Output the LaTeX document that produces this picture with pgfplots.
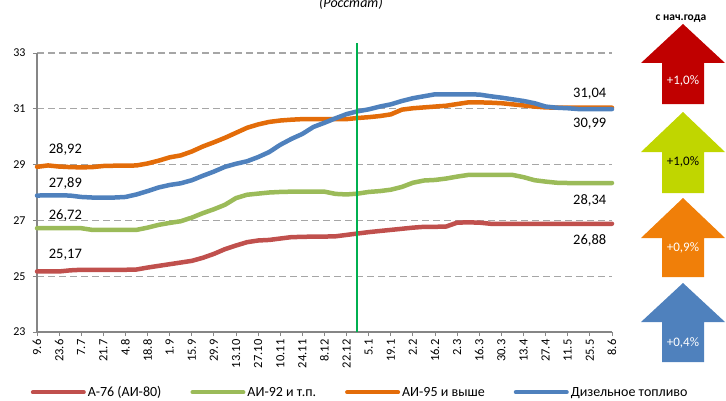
\documentclass[border=0pt]{standalone}
\usepackage{fontspec}
\setmainfont{Carlito}
\usepackage{pgfplots}
\pgfplotsset{compat=1.18}
\usepackage{pgfplotstable}

\definecolor{cRed}{HTML}{C0504D}
\definecolor{cGreen}{HTML}{9BBB59}
\definecolor{cOrange}{HTML}{E36C09}
\definecolor{cBlue}{HTML}{4F81BD}
\definecolor{aRed}{HTML}{C00000}
\definecolor{aGreen}{HTML}{C0D600}
\definecolor{aOrange}{HTML}{F07F09}
\definecolor{aBlue}{HTML}{4F81BD}
\definecolor{vGreen}{HTML}{00B050}
\definecolor{gridgray}{HTML}{A6A6A6}
\definecolor{axgray}{HTML}{868686}

\pgfplotstableread{
i red green orange blue
0 25.17 26.72 28.92 27.89
1 25.17 26.72 28.97 27.90
2 25.17 26.72 28.93 27.90
3 25.21 26.72 28.91 27.89
4 25.23 26.72 28.90 27.84
5 25.23 26.66 28.91 27.82
6 25.23 26.66 28.95 27.82
7 25.23 26.66 28.96 27.82
8 25.23 26.66 28.96 27.84
9 25.24 26.66 28.97 27.93
10 25.31 26.74 29.04 28.05
11 25.37 26.84 29.14 28.18
12 25.43 26.91 29.26 28.27
13 25.49 26.97 29.33 28.33
14 25.55 27.10 29.47 28.44
15 25.66 27.26 29.65 28.60
16 25.80 27.40 29.80 28.75
17 25.97 27.56 29.96 28.92
18 26.10 27.80 30.14 29.03
19 26.22 27.92 30.32 29.12
20 26.28 27.96 30.44 29.27
21 26.30 28.00 30.53 29.45
22 26.35 28.02 30.58 29.71
23 26.40 28.03 30.61 29.92
24 26.41 28.03 30.63 30.10
25 26.42 28.03 30.63 30.35
26 26.42 28.03 30.63 30.50
27 26.43 27.95 30.63 30.66
28 26.48 27.93 30.63 30.81
29 26.53 27.96 30.67 30.91
30 26.58 28.02 30.70 30.98
31 26.62 28.05 30.74 31.08
32 26.66 28.10 30.80 31.16
33 26.70 28.20 30.97 31.28
34 26.74 28.35 31.02 31.38
35 26.77 28.43 31.05 31.45
36 26.77 28.45 31.08 31.52
37 26.78 28.50 31.11 31.52
38 26.92 28.57 31.17 31.52
39 26.93 28.63 31.23 31.52
40 26.92 28.63 31.23 31.51
41 26.88 28.63 31.22 31.45
42 26.88 28.63 31.20 31.40
43 26.88 28.63 31.16 31.34
44 26.88 28.55 31.12 31.28
45 26.88 28.44 31.08 31.20
46 26.88 28.39 31.05 31.08
47 26.88 28.35 31.04 31.04
48 26.88 28.34 31.04 31.02
49 26.88 28.34 31.04 30.99
50 26.88 28.34 31.04 30.99
51 26.88 28.34 31.04 30.99
52 26.88 28.34 31.04 30.99
}\prices

\begin{document}
\begin{tikzpicture}[x=1pt,y=1pt]
\useasboundingbox (0,0) rectangle (726,400);
\begin{axis}[
  at={(37pt,68pt)}, anchor=south west,
  scale only axis, width=575pt, height=279pt,
  xmin=0, xmax=52, ymin=23, ymax=33,
  axis x line*=bottom, axis y line*=left,
  axis line style={axgray, line width=1.3pt, -},
  xtick={0,2,...,52},
  xticklabels={9.6,23.6,7.7,21.7,4.8,18.8,1.9,15.9,29.9,13.10,27.10,10.11,24.11,8.12,22.12,5.1,19.1,2.2,16.2,2.3,16.3,30.3,13.4,27.4,11.5,25.5,8.6},
  ytick={23,25,...,33},
  tick align=outside, major tick length=4pt,
  tick style={axgray, line width=1pt},
  ymajorgrids,
  grid style={gridgray, dash pattern=on 7pt off 4pt, line width=1.3pt},
  xticklabel style={rotate=90, anchor=east, font=\fontsize{12.5}{14}\selectfont},
  yticklabel style={font=\fontsize{12}{14}\selectfont, xshift=-4pt},
  /pgf/number format/assume math mode=true,
  clip=false,
  legend style={at={(0.562,-0.216)}, anchor=center, draw=none, fill=none,
    legend columns=4, font=\fontsize{14}{16}\selectfont,
    /tikz/every even column/.append style={column sep=27pt}},
  legend image code/.code={\draw[#1, line width=4pt, line cap=round] (0pt,0pt) -- (51pt,0pt);},
  every axis plot/.append style={line width=4.5pt, line join=round, line cap=round},
]
\addplot[cRed] table[x=i, y=red] {\prices};
\addlegendentry{А-76 (АИ-80)}
\addplot[cGreen] table[x=i, y=green] {\prices};
\addlegendentry{АИ-92 и т.п.}
\addplot[cOrange] table[x=i, y=orange] {\prices};
\addlegendentry{АИ-95 и выше}
\addplot[cBlue] table[x=i, y=blue] {\prices};
\addlegendentry{Дизельное топливо}
\addplot[vGreen, line width=2pt, line cap=butt, forget plot] coordinates {(28.93,23) (28.93,33.36)};

\begin{scope}[every node/.style={font=\fontsize{14.5}{16}\selectfont}]
\node[anchor=west] at (axis cs:0.75,29.54) {28,92};
\node[anchor=west] at (axis cs:0.75,28.34) {27,89};
\node[anchor=west] at (axis cs:0.75,27.16) {26,72};
\node[anchor=west] at (axis cs:0.75,25.76) {25,17};
\node[anchor=east] at (axis cs:51.8,31.55) {31,04};
\node[anchor=east] at (axis cs:51.8,30.47) {30,99};
\node[anchor=east] at (axis cs:51.8,27.71) {28,34};
\node[anchor=east] at (axis cs:51.8,26.28) {26,88};
\end{scope}
\end{axis}

% title
\node[font=\itshape\fontsize{14}{16}\selectfont, anchor=base] at (351,392.7) {(Росстат)};
\node[font=\bfseries\fontsize{11.5}{13}\selectfont] at (681,381) {с нач.года};

% arrows
\fill[aRed] (662,296) -- (662,337) -- (641,337) -- (683,376) -- (725,337) -- (704,337) -- (704,296) -- cycle;
\node[white, font=\fontsize{13}{15}\selectfont] at (683,319) {+1,0\%};
\fill[aGreen] (662,207) -- (662,248) -- (641,248) -- (683,288) -- (725,248) -- (704,248) -- (704,207) -- cycle;
\node[black, font=\fontsize{13}{15}\selectfont] at (683,238) {+1,0\%};
\fill[aOrange] (662,123) -- (662,162) -- (641,162) -- (683,202) -- (725,162) -- (704,162) -- (704,123) -- cycle;
\node[white, font=\fontsize{13}{15}\selectfont] at (683,152) {+0,9\%};
\fill[aBlue] (662,38) -- (662,78) -- (641,78) -- (683,117) -- (725,78) -- (704,78) -- (704,38) -- cycle;
\node[white, font=\fontsize{13}{15}\selectfont] at (683,57) {+0,4\%};
\end{tikzpicture}
\end{document}
